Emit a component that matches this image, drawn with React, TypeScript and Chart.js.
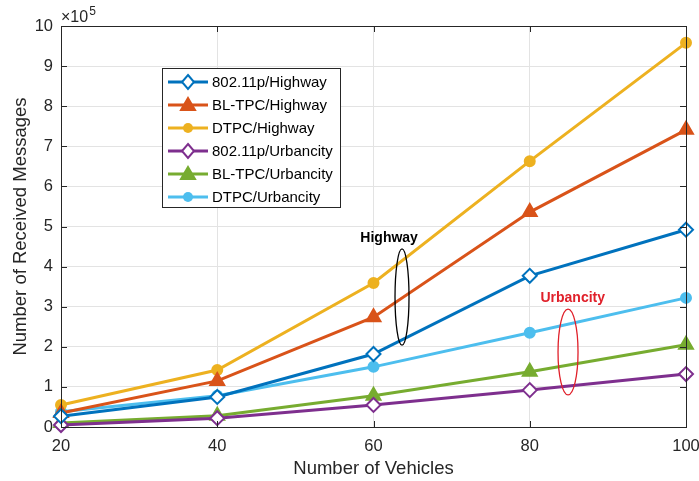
import React, { useEffect, useRef } from "react";
import { Chart, registerables } from "chart.js";

Chart.register(...registerables);

const vehicles = [20, 40, 60, 80, 100];
const seriesNames = [
  "802.11p/Highway",
  "BL-TPC/Highway",
  "DTPC/Highway",
  "802.11p/Urbancity",
  "BL-TPC/Urbancity",
  "DTPC/Urbancity",
];
const ieeeHighway = [0.27, 0.75, 1.82, 3.77, 4.92];
const bltpcHighway = [0.35, 1.15, 2.74, 5.36, 7.41];
const dtpcHighway = [0.55, 1.42, 3.59, 6.63, 9.58];
const ieeeUrban = [0.05, 0.22, 0.55, 0.92, 1.32];
const bltpcUrban = [0.1, 0.28, 0.78, 1.38, 2.05];
const dtpcUrban = [0.38, 0.78, 1.5, 2.35, 3.22];
const yTicks = [0, 1, 2, 3, 4, 5, 6, 7, 8, 9, 10];

const colors = ["#0072BD", "#D95319", "#EDB120", "#7E2F8E", "#77AC30", "#4DBEEE"];
const styles = ["rectRot", "triangle", "circle", "rectRot", "triangle", "circle"];
const allSeries = [ieeeHighway, bltpcHighway, dtpcHighway, ieeeUrban, bltpcUrban, dtpcUrban];

const FONT = "'Liberation Sans', Arial, sans-serif";

function drawMarker(ctx: CanvasRenderingContext2D, style: string, x: number, y: number, color: string) {
  ctx.save();
  ctx.strokeStyle = color;
  ctx.fillStyle = color;
  ctx.lineWidth = 2;
  ctx.beginPath();
  if (style === "rectRot") {
    ctx.moveTo(x, y - 7);
    ctx.lineTo(x + 6, y);
    ctx.lineTo(x, y + 7);
    ctx.lineTo(x - 6, y);
    ctx.closePath();
    ctx.fillStyle = "#ffffff";
    ctx.fill();
    ctx.stroke();
  } else if (style === "triangle") {
    ctx.moveTo(x, y - 7);
    ctx.lineTo(x + 7, y + 5);
    ctx.lineTo(x - 7, y + 5);
    ctx.closePath();
    ctx.fill();
    ctx.stroke();
  } else {
    ctx.arc(x, y, 5, 0, Math.PI * 2);
    ctx.fill();
  }
  ctx.restore();
}

const overlayPlugin = {
  id: "overlay",
  afterDatasetsDraw(chart: any) {
    const ctx: CanvasRenderingContext2D = chart.ctx;
    const xs = chart.scales.x;
    const ys = chart.scales.y;
    const area = chart.chartArea;

    const ell = (cx: number, cy: number, rx: number, ryData: number, color: string) => {
      const px = xs.getPixelForValue(cx);
      const py = ys.getPixelForValue(cy);
      const ry = Math.abs(ys.getPixelForValue(cy + ryData) - py);
      ctx.save();
      ctx.strokeStyle = color;
      ctx.lineWidth = 1.3;
      ctx.beginPath();
      ctx.ellipse(px, py, rx, ry, 0, 0, Math.PI * 2);
      ctx.stroke();
      ctx.restore();
    };
    ell(63.65, 3.24, 7, 1.2, "#000000");
    ell(84.9, 1.87, 10, 1.07, "#E0202A");
    ctx.save();
    ctx.font = `bold 14px ${FONT}`;
    ctx.textAlign = "center";
    ctx.textBaseline = "middle";
    ctx.fillStyle = "#000000";
    ctx.fillText("Highway", xs.getPixelForValue(62.0), ys.getPixelForValue(4.71));
    ctx.fillStyle = "#E0202A";
    ctx.fillText("Urbancity", xs.getPixelForValue(85.5), ys.getPixelForValue(3.22));
    ctx.restore();

    // axis box with inward ticks
    ctx.save();
    ctx.strokeStyle = "#262626";
    ctx.lineWidth = 1;
    ctx.strokeRect(area.left + 0.5, area.top + 0.5, area.right - area.left, area.bottom - area.top);
    ctx.beginPath();
    yTicks.forEach((t) => {
      const py = Math.round(ys.getPixelForValue(t)) + 0.5;
      ctx.moveTo(area.left, py);
      ctx.lineTo(area.left + 6, py);
      ctx.moveTo(area.right, py);
      ctx.lineTo(area.right - 6, py);
    });
    vehicles.forEach((v) => {
      const px = Math.round(xs.getPixelForValue(v)) + 0.5;
      ctx.moveTo(px, area.bottom);
      ctx.lineTo(px, area.bottom - 6);
      ctx.moveTo(px, area.top);
      ctx.lineTo(px, area.top + 6);
    });
    ctx.stroke();
    ctx.restore();

    ctx.save();
    ctx.fillStyle = "#262626";
    ctx.textBaseline = "alphabetic";
    ctx.font = `16px ${FONT}`;
    ctx.fillText("×10", area.left, area.top - 4);
    const w = ctx.measureText("×10").width;
    ctx.font = `12px ${FONT}`;
    ctx.fillText("5", area.left + w + 1, area.top - 11);
    ctx.restore();

    const lx = 162, ly = 68, lw = 178, lh = 139;
    ctx.save();
    ctx.fillStyle = "#ffffff";
    ctx.fillRect(lx, ly, lw, lh);
    ctx.strokeStyle = "#262626";
    ctx.lineWidth = 1;
    ctx.strokeRect(lx + 0.5, ly + 0.5, lw, lh);
    ctx.font = `15px ${FONT}`;
    ctx.textBaseline = "middle";
    seriesNames.forEach((name, i) => {
      const y = ly + 14 + i * 23;
      ctx.strokeStyle = colors[i];
      ctx.lineWidth = 3;
      ctx.beginPath();
      ctx.moveTo(lx + 6, y);
      ctx.lineTo(lx + 46, y);
      ctx.stroke();
      drawMarker(ctx, styles[i], lx + 26, y, colors[i]);
      ctx.fillStyle = "#000000";
      ctx.fillText(name, lx + 50, y + 1);
    });
    ctx.restore();
  },
};

export default function App() {
  const ref = useRef<HTMLCanvasElement | null>(null);
  useEffect(() => {
    document.body.style.margin = "0";
    const canvas = ref.current!;
    const chart = new Chart(canvas, {
      type: "line",
      data: {
        datasets: allSeries.map((vals, i) => ({
          label: seriesNames[i],
          data: vals.map((v, j) => ({ x: vehicles[j], y: v })),
          borderColor: colors[i],
          backgroundColor: colors[i],
          pointBackgroundColor: styles[i] === "rectRot" ? "#ffffff" : colors[i],
          pointBorderColor: colors[i],
          pointBorderWidth: 2,
          pointStyle: styles[i] as any,
          pointRadius: styles[i] === "circle" ? 5 : styles[i] === "triangle" ? 8 : 7,
          borderWidth: 3,
          tension: 0,
          fill: false,
          clip: false,
        })),
      },
      options: {
        animation: false,
        responsive: false,
        layout: { padding: { top: 26, right: 13, left: 0, bottom: 0 } },
        plugins: { legend: { display: false }, tooltip: { enabled: false } },
        scales: {
          x: {
            type: "linear",
            min: 20,
            max: 100,
            afterBuildTicks: (axis: any) => {
              axis.ticks = vehicles.map((v) => ({ value: v }));
            },
            afterFit: (axis: any) => {
              axis.height = 54;
              axis.paddingLeft = 0;
              axis.paddingRight = 0;
            },
            grid: { color: "#e3e3e3", drawTicks: false },
            border: { display: false },
            ticks: { color: "#262626", font: { family: FONT, size: 16.5 }, padding: 10, maxRotation: 0 },
            title: {
              display: true,
              text: "Number of Vehicles",
              color: "#262626",
              font: { family: FONT, size: 18.5 },
              padding: { top: 0, bottom: 1 },
            },
          },
          y: {
            type: "linear",
            min: 0,
            max: 10,
            afterBuildTicks: (axis: any) => {
              axis.ticks = yTicks.map((v) => ({ value: v }));
            },
            afterFit: (axis: any) => {
              axis.width = 61;
              axis.paddingTop = 0;
              axis.paddingBottom = 0;
            },
            grid: { color: "#e3e3e3", drawTicks: false },
            border: { display: false },
            ticks: { color: "#262626", font: { family: FONT, size: 16.5 }, padding: 8 },
            title: {
              display: true,
              text: "Number of Received Messages",
              color: "#262626",
              font: { family: FONT, size: 18.5 },
              padding: { top: 10, bottom: 0 },
            },
          },
        },
      },
      plugins: [overlayPlugin],
    } as any);
    return () => chart.destroy();
  }, []);
  return (
    <div style={{ position: "absolute", left: 0, top: 0, width: 699, height: 481, background: "#fff" }}>
      <canvas ref={ref} width={699} height={481} />
    </div>
  );
}
